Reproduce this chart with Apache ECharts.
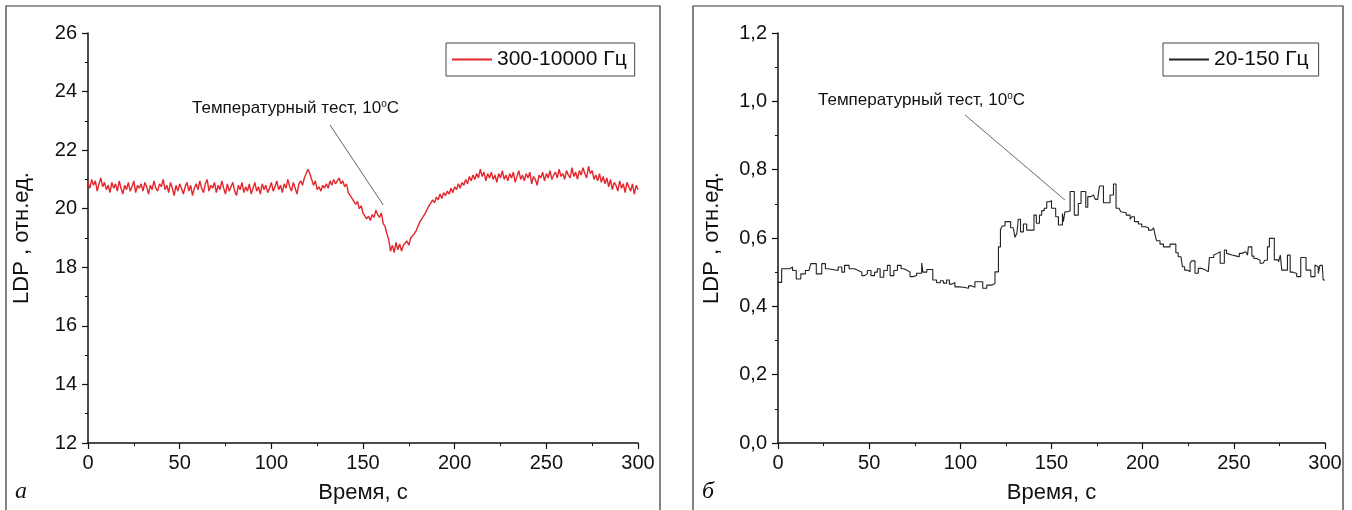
<!DOCTYPE html>
<html><head><meta charset="utf-8">
<script src="https://cdn.jsdelivr.net/npm/echarts@6/dist/echarts.min.js"></script>
<style>html,body{margin:0;padding:0;background:#fff}#c{width:1352px;height:510px}</style>
</head><body><div id="c"></div>
<script>
// Left panel (a): 300-10000 Hz, one sample per second, t = 0..300 s
const leftName = '300-10000 Гц';
const leftValues = [
20.9,20.7,21.0,20.8,20.95,20.6,20.85,21.05,20.75,20.9,
20.65,20.8,20.55,20.9,20.7,20.85,20.6,20.95,20.7,20.5,
20.8,20.65,20.9,20.6,20.75,20.95,20.55,20.8,20.7,20.85,
20.6,20.9,20.75,20.5,20.8,20.65,20.95,20.7,20.6,20.85,
20.75,21.0,20.65,20.8,20.55,20.9,20.7,20.45,20.8,20.6,
20.85,20.7,20.5,20.75,20.9,20.6,20.8,20.45,20.7,20.85,
20.65,20.95,20.7,20.55,20.85,21.0,20.6,20.8,20.7,20.9,
20.55,20.8,20.65,20.95,20.7,20.5,20.85,20.6,20.75,20.9,
20.6,20.45,20.8,20.65,20.9,20.55,20.75,20.6,20.85,20.5,
20.7,20.9,20.6,20.75,20.5,20.85,20.65,20.8,20.55,20.7,
20.9,20.6,20.75,20.95,20.65,20.8,20.55,20.85,20.7,21.0,
20.75,20.6,20.9,20.7,20.5,20.85,20.95,20.8,21.05,21.2,
21.35,21.2,21.0,20.8,20.95,20.65,20.75,20.6,20.8,20.7,
20.85,20.7,20.95,20.8,21.0,20.85,20.9,21.05,20.85,20.95,
20.75,20.85,20.55,20.6,20.35,20.4,20.15,20.25,20.0,20.1,
19.85,19.9,19.65,19.75,19.6,19.8,19.7,19.95,19.8,19.7,
19.85,19.5,19.4,19.15,18.95,18.55,18.75,18.5,18.85,18.6,
18.8,18.55,18.75,18.7,18.9,18.75,19.0,18.95,19.15,19.25,
19.4,19.55,19.5,19.75,19.85,19.9,20.1,20.05,20.3,20.2,
20.4,20.3,20.5,20.35,20.55,20.45,20.6,20.5,20.7,20.55,
20.75,20.65,20.85,20.7,20.9,20.8,21.0,20.85,21.1,20.95,
21.15,21.0,21.2,21.05,21.35,21.1,21.25,20.95,21.2,21.05,
21.25,21.0,21.15,20.9,21.2,21.05,21.3,21.0,21.15,20.95,
21.2,21.05,21.25,20.9,21.1,21.3,21.0,21.15,20.95,21.2,
21.05,21.25,20.85,21.1,21.0,20.8,21.15,21.05,21.25,20.95,
21.2,21.05,21.3,21.0,21.15,21.25,21.05,21.35,21.1,21.2,
21.0,21.3,21.15,21.05,21.4,21.1,21.25,21.0,21.3,21.15,
21.4,21.2,21.05,21.45,21.2,21.3,21.0,21.15,20.95,21.2,
20.9,21.1,20.85,21.05,20.75,21.0,20.65,20.9,20.8,20.6,
20.95,20.7,20.85,20.55,20.9,20.75,20.6,20.85,20.5,20.8,
20.65];

// Right panel (б): 20-150 Hz, stepwise signal (time where each level starts, level)
const rightName = '20-150 Гц';
const rightTimes = [0,2,6.5,8,10,12.5,15,17,18,21,24,26,27.5,33,35,36.5,39,42,44,46,47.5,49,51,53,54.5,56,58,60,61.5,63.5,65.5,67.5,69,71,72.4,74,76,78.8,79.5,81.6,84.9,87,89,90.7,92.5,94,95.5,97,99,101.7,104.5,106,108,112.3,114.5,117.2,119,120.9,122,123,124.5,127.6,129,130,131,131.8,133,134.6,136.4,140.4,141.7,143.4,144.6,146,147.4,148.7,150,152.3,153.8,156,156.5,157.4,159,160.2,162.5,164.7,166.2,168.8,169.9,171.6,173,174,175.3,176.3,178.5,182.1,184,185.4,187,188,189,191,193.1,194,195.5,197.7,199.5,201.5,203.2,205,206,206.8,207.6,209.5,211.4,215,218.2,219.5,221,221.8,223,224.5,226,226.9,228.7,230.5,232.5,234.5,236,236.6,239,239.7,241,242.5,244.8,246,247,249,249.8,251.5,253,254.4,256.5,257.5,258,259.9,261,262.5,264.4,266,267,268.4,269.5,272.2,274.5,275.5,276.3,279.4,280.9,282.5,284.5,286.7,288.5,289.6,292.2,294.5,295.5,296.3,297.2,298.5,299,300];
const rightValues = [0.47,0.51,0.515,0.505,0.48,0.495,0.505,0.51,0.525,0.495,0.525,0.51,0.505,0.515,0.50,0.52,0.51,0.505,0.50,0.49,0.495,0.505,0.49,0.50,0.51,0.485,0.505,0.52,0.49,0.505,0.52,0.51,0.505,0.50,0.487,0.49,0.497,0.527,0.50,0.508,0.477,0.469,0.475,0.468,0.477,0.465,0.47,0.457,0.456,0.453,0.46,0.456,0.472,0.453,0.462,0.467,0.501,0.574,0.625,0.635,0.648,0.63,0.625,0.602,0.614,0.655,0.618,0.641,0.623,0.667,0.643,0.667,0.68,0.687,0.706,0.709,0.687,0.662,0.638,0.672,0.648,0.677,0.68,0.736,0.667,0.701,0.736,0.69,0.721,0.726,0.721,0.713,0.71,0.752,0.703,0.726,0.758,0.687,0.684,0.677,0.674,0.667,0.655,0.662,0.648,0.641,0.633,0.63,0.623,0.625,0.63,0.609,0.592,0.582,0.574,0.582,0.557,0.545,0.543,0.516,0.506,0.501,0.526,0.533,0.497,0.511,0.506,0.501,0.506,0.543,0.55,0.555,0.56,0.526,0.565,0.555,0.55,0.555,0.547,0.545,0.555,0.56,0.565,0.55,0.574,0.547,0.54,0.535,0.526,0.526,0.535,0.574,0.599,0.536,0.53,0.55,0.506,0.55,0.50,0.496,0.487,0.543,0.543,0.506,0.487,0.521,0.516,0.496,0.52,0.516,0.477,0.477];

const annotationText = 'Температурный тест, 10{s|o}C';
const xTitle = 'Время, с';
const yTitle = 'LDP , отн.ед.';

const FONT = '"Liberation Sans", Arial, sans-serif';
const leftData = leftValues.map((v, i) => [i, v]);
const rightData = rightTimes.map((t, i) => [t, rightValues[i]]);

function xAxisCfg(idx) {
  return {
    type: 'value', gridIndex: idx, min: 0, max: 300, interval: 50,
    name: xTitle, nameLocation: 'middle', nameGap: 39,
    nameTextStyle: {fontFamily: FONT, fontSize: 22, color: '#111'},
    axisLine: {show: true, onZero: false, lineStyle: {color: '#111', width: 1.5}},
    axisTick: {show: true, inside: false, length: 6, lineStyle: {color: '#111', width: 1.2}},
    minorTick: {show: true, splitNumber: 2, length: 3, lineStyle: {color: '#111', width: 1}},
    axisLabel: {fontFamily: FONT, fontSize: 20, color: '#111', margin: 10},
    splitLine: {show: false}
  };
}
function yAxisCfg(idx, min, max, interval, fmt) {
  return {
    type: 'value', gridIndex: idx, min: min, max: max, interval: interval,
    name: yTitle, nameLocation: 'middle', nameGap: 55, nameRotate: 90,
    nameTextStyle: {fontFamily: FONT, fontSize: 22, color: '#111'},
    axisLine: {show: true, onZero: false, lineStyle: {color: '#111', width: 1.5}},
    axisTick: {show: true, inside: false, length: 6, lineStyle: {color: '#111', width: 1.2}},
    minorTick: {show: true, splitNumber: 2, length: 3, lineStyle: {color: '#111', width: 1}},
    axisLabel: {fontFamily: FONT, fontSize: 20, color: '#111', margin: 11, formatter: fmt},
    splitLine: {show: false}
  };
}

const chart = echarts.init(document.getElementById('c'), null, {renderer: 'canvas'});
chart.setOption({
  backgroundColor: '#fff',
  animation: false,
  grid: [
    {left: 88, top: 33, width: 550, height: 410},
    {left: 778, top: 33, width: 547, height: 410}
  ],
  xAxis: [xAxisCfg(0), xAxisCfg(1)],
  yAxis: [
    yAxisCfg(0, 12, 26, 2, v => String(v)),
    yAxisCfg(1, 0, 1.2, 0.2, v => v.toFixed(1).replace('.', ','))
  ],
  legend: [
    {data: [leftName], left: 446, top: 43, orient: 'horizontal',
     borderColor: '#444', borderWidth: 1, padding: [6, 8, 6, 6],
     icon: 'rect', itemWidth: 40, itemHeight: 2, itemGap: 6,
     textStyle: {fontFamily: FONT, fontSize: 21, color: '#111'}},
    {data: [rightName], left: 1163, top: 43, orient: 'horizontal',
     borderColor: '#444', borderWidth: 1, padding: [6, 10, 6, 6],
     icon: 'rect', itemWidth: 40, itemHeight: 2, itemGap: 6,
     textStyle: {fontFamily: FONT, fontSize: 21, color: '#111'}}
  ],
  series: [
    {name: leftName, type: 'line', xAxisIndex: 0, yAxisIndex: 0, data: leftData,
     showSymbol: false, symbol: 'none', lineStyle: {color: '#e4262c', width: 1.4}, itemStyle: {color: '#e4262c'},
     markLine: {silent: true, symbol: 'none', label: {show: false},
       lineStyle: {color: '#555', width: 0.9, type: 'solid'},
       data: [[{coord: [132, 22.86]}, {coord: [161, 20.13]}]]}},
    {name: rightName, type: 'line', step: 'end', xAxisIndex: 1, yAxisIndex: 1, data: rightData,
     showSymbol: false, symbol: 'none', lineStyle: {color: '#222', width: 1.1}, itemStyle: {color: '#222'},
     markLine: {silent: true, symbol: 'none', label: {show: false},
       lineStyle: {color: '#555', width: 0.9, type: 'solid'},
       data: [[{coord: [102.6, 0.96]}, {coord: [157.4, 0.711]}]]}}
  ],
  graphic: [
    {type: 'rect', shape: {x: 6, y: 6, width: 654, height: 530}, style: {fill: 'none', stroke: '#333', lineWidth: 1.2}, silent: true},
    {type: 'rect', shape: {x: 693, y: 6, width: 650, height: 530}, style: {fill: 'none', stroke: '#333', lineWidth: 1.2}, silent: true},
    {type: 'text', left: 192, top: 99, style: {text: annotationText, font: '17px ' + FONT, fill: '#111',
      rich: {s: {fontSize: 10, fontFamily: FONT, verticalAlign: 'top', padding: [0, 0, 8, 0]}}}},
    {type: 'text', left: 818, top: 91, style: {text: annotationText, font: '17px ' + FONT, fill: '#111',
      rich: {s: {fontSize: 10, fontFamily: FONT, verticalAlign: 'top', padding: [0, 0, 8, 0]}}}},
    {type: 'text', left: 15, top: 480, style: {text: 'a', font: 'italic 24px "Liberation Serif", "DejaVu Serif", serif', fill: '#111'}},
    {type: 'text', left: 702, top: 480, style: {text: 'б', font: 'italic 24px "Liberation Serif", "DejaVu Serif", serif', fill: '#111'}}
  ]
});
</script></body></html>
